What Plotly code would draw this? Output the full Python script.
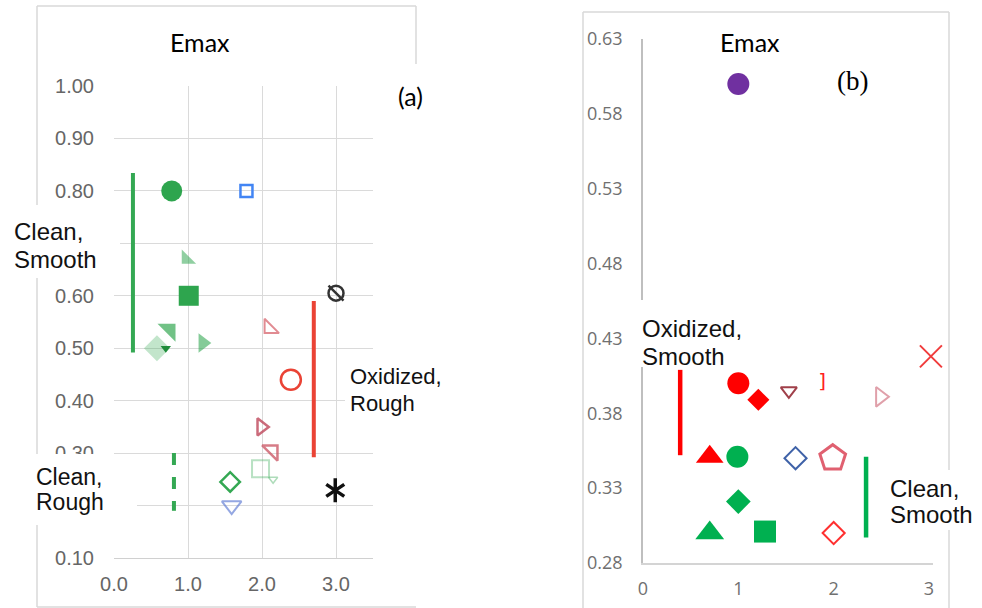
import plotly.graph_objects as go

W, H = 982, 608

# ---------------- Panel (a) data ----------------
a_x = [0.78, 1.79, 0.98, 1.01, 0.75, 0.58, 0.70, 1.20, 2.10, 2.39, 3.00, 3.00, 1.99, 2.14, 1.98, 2.15, 1.57, 1.59, 2.99, 2.99]
a_y = [0.80, 0.80, 0.67, 0.60, 0.535, 0.50, 0.50, 0.51, 0.538, 0.44, 0.605, 0.605, 0.35, 0.305, 0.27, 0.25, 0.245, 0.20, 0.229, 0.229]
a_sym = ["circle", "square-open", "triangle-sw", "square", "triangle-ne", "diamond", "triangle-down",
         "triangle-right", "triangle-sw-open", "circle-open", "circle-open", "line-nw", "triangle-right-open",
         "triangle-ne-open", "square-open", "triangle-down-open", "diamond-open", "triangle-down-open",
         "y-up-open", "y-down-open"]
a_col = ["#2EA54E", "#4285F4", "rgba(52,168,83,0.55)", "#2EA54E", "rgba(52,168,83,0.7)", "rgba(52,168,83,0.3)",
         "#1E8C3A", "rgba(52,168,83,0.6)", "rgba(215,100,110,0.75)", "#EA4335", "#333333", "#333333",
         "rgba(190,70,90,0.8)", "rgba(200,80,95,0.75)", "rgba(52,168,83,0.35)", "rgba(52,168,83,0.4)",
         "#34A853", "rgba(90,120,210,0.65)", "#111111", "#111111"]
a_size = [21, 12, 16, 20, 20, 20, 9, 17, 16, 20, 15, 15, 15, 17, 17, 8, 15, 17, 15, 15]
a_lw = [0, 2.5, 0, 0, 0, 0, 0, 0, 2, 2.5, 2.5, 2.5, 2.5, 2.5, 2, 1.5, 2.5, 2, 3.5, 3.5]

# group indicator lines (x, y_start, y_end)
a_lines_x = [0.256, 2.70, 0.81]
a_lines_y0 = [0.834, 0.59, 0.30]
a_lines_y1 = [0.492, 0.292, 0.19]
a_lines_col = ["#34A853", "#EA4335", "#34A853"]
a_lines_dash = ["solid", "solid", "dash"]

# ---------------- Panel (b) data ----------------
b_x = [1.00, 3.02, 1.00, 1.21, 1.53, 2.49, 0.70, 0.99, 1.60, 1.99, 1.00, 0.70, 1.28, 2.00]
b_y = [0.60, 0.418, 0.40, 0.389, 0.395, 0.391, 0.351, 0.351, 0.35, 0.35, 0.321, 0.30, 0.301, 0.30]
b_sym = ["circle", "x-thin-open", "circle", "diamond", "triangle-down-open", "triangle-right-open",
         "triangle-up", "circle", "diamond-open", "pentagon-open", "diamond", "triangle-up", "square", "diamond-open"]
b_col = ["#7030A0", "#F03C3C", "#FF0000", "#FF0000", "#A0404A", "#E0A0AA", "#FF0000", "#00B050",
         "#3F62A8", "#E06070", "#00B050", "#00B050", "#00B050", "#FF3030"]
b_size = [22, 22, 22, 17, 14, 17, 24, 22, 17, 27, 19, 25, 22, 17]
b_lw = [0, 2, 0, 0, 2, 2, 0, 0, 2, 3, 0, 0, 0, 2]

b_bracket_x = [1.88]
b_bracket_y = [0.40]

b_lines_x = [0.39, 2.34]
b_lines_y0 = [0.409, 0.351]
b_lines_y1 = [0.352, 0.297]
b_lines_col = ["#FF0000", "#00B050"]

a_xticks = [0, 1, 2, 3]
a_yticks = [0.1, 0.2, 0.3, 0.4, 0.5, 0.6, 0.7, 0.8, 0.9, 1.0]
a_yticktext = ["0.10", "", "0.30", "0.40", "0.50", "0.60", "", "0.80", "0.90", "1.00"]
b_xticks = [0, 1, 2, 3]
b_yticks = [0.28, 0.33, 0.38, 0.43, 0.48, 0.53, 0.58, 0.63]


def px(x):
    return x / W


def py(y):
    return 1 - y / H


fig = go.Figure()

for xv, y0, y1, c, d in zip(a_lines_x, a_lines_y0, a_lines_y1, a_lines_col, a_lines_dash):
    fig.add_trace(go.Scatter(x=[xv, xv], y=[y0, y1], mode="lines", xaxis="x", yaxis="y",
                             line=dict(color=c, width=4, dash=d), showlegend=False, hoverinfo="skip"))

for xv, yv, s, c, sz, lw in zip(a_x, a_y, a_sym, a_col, a_size, a_lw):
    open_ = s.endswith("open") or s.startswith("line")
    fig.add_trace(go.Scatter(x=[xv], y=[yv], mode="markers", xaxis="x", yaxis="y", cliponaxis=False,
                             marker=dict(symbol=s, size=sz, color=c,
                                         line=dict(color=c, width=lw if open_ else 0)),
                             showlegend=False))

for xv, y0, y1, c in zip(b_lines_x, b_lines_y0, b_lines_y1, b_lines_col):
    fig.add_trace(go.Scatter(x=[xv, xv], y=[y0, y1], mode="lines", xaxis="x2", yaxis="y2",
                             line=dict(color=c, width=4.5), showlegend=False, hoverinfo="skip"))

for xv, yv, s, c, sz, lw in zip(b_x, b_y, b_sym, b_col, b_size, b_lw):
    open_ = s.endswith("open")
    fig.add_trace(go.Scatter(x=[xv], y=[yv], mode="markers", xaxis="x2", yaxis="y2", cliponaxis=False,
                             marker=dict(symbol=s, size=sz, color=c,
                                         line=dict(color=c, width=lw if open_ else 0)),
                             showlegend=False))

fig.add_trace(go.Scatter(x=b_bracket_x, y=b_bracket_y, mode="text", text=["]"], xaxis="x2", yaxis="y2",
                         textfont=dict(family="DejaVu Sans", size=20, color="#FF2020"), showlegend=False))

tickfont_a = dict(family="Liberation Sans", size=20, color="#666666")
tickfont_b = dict(family="Open Sans", size=18, color="#707070")

b_xmax = 3.04
fig.update_layout(
    width=W, height=H, margin=dict(l=0, r=0, t=0, b=0, autoexpand=False),
    paper_bgcolor="white", plot_bgcolor="white",
    xaxis=dict(domain=[px(114), px(373)], range=[0, 3.5], tickvals=a_xticks, tickformat=".1f",
               showgrid=True, gridcolor="#dadada", gridwidth=1, zeroline=False, showline=True,
               linecolor="#d0d0d0", tickfont=tickfont_a, ticklabelstandoff=8, anchor="y", automargin=False),
    yaxis=dict(domain=[py(558), py(86)], range=[0.1, 1.0], tickvals=a_yticks, ticktext=a_yticktext,
               showgrid=True, gridcolor="#dadada", gridwidth=1, zeroline=False, showline=False,
               tickfont=tickfont_a, ticklabelstandoff=19, anchor="x", automargin=False),
    xaxis2=dict(domain=[px(643), px(643 + 95.33 * b_xmax)], range=[0, b_xmax], tickvals=b_xticks,
                showgrid=False, zeroline=False, showline=True, linecolor="#d4d4d4", linewidth=1.5,
                tickfont=tickfont_b, ticklabelstandoff=9, anchor="y2", automargin=False),
    yaxis2=dict(domain=[py(563), py(39)], range=[0.28, 0.63], tickvals=b_yticks, tickformat=".2f",
                showgrid=False, zeroline=False, showline=True, linecolor="#bfbfbf", linewidth=1.5,
                tickfont=tickfont_b, ticklabelstandoff=15, anchor="x2", automargin=False),
)

frame_col = "#d9d9d9"
shapes = [
    # panel (a) frame (partially hidden)
    dict(type="line", x0=px(37), x1=px(416), y0=py(6), y1=py(6)),
    dict(type="line", x0=px(37), x1=px(37), y0=py(6), y1=py(607)),
    dict(type="line", x0=px(37), x1=px(416), y0=py(607), y1=py(607)),
    dict(type="line", x0=px(416), x1=px(416), y0=py(6), y1=py(64)),
    # panel (b) frame
    dict(type="line", x0=px(583), x1=px(949), y0=py(12), y1=py(12)),
    dict(type="line", x0=px(583), x1=px(583), y0=py(12), y1=py(608)),
    dict(type="line", x0=px(949), x1=px(949), y0=py(12), y1=py(608)),
]
for s in shapes:
    s.update(xref="paper", yref="paper", line=dict(color=frame_col, width=1.5), layer="below")

boxes = [(0, 205, 120, 278), (30, 454, 137, 525), (345, 362, 415, 418), (628, 300, 757, 367), (885, 470, 982, 530)]
for x0, y0, x1, y1 in boxes:
    shapes.append(dict(type="rect", xref="paper", yref="paper", x0=px(x0), x1=px(x1), y0=py(y1), y1=py(y0),
                       fillcolor="white", line=dict(width=0), layer="above"))
fig.update_layout(shapes=shapes)

big = dict(family="Liberation Sans", size=24, color="#111111")
mid = dict(family="Liberation Sans", size=22, color="#111111")
ann = [
    dict(x=px(200), y=py(42), text="Emax", font=dict(family="Lato", size=25, color="#000"), xanchor="center"),
    dict(x=px(410), y=py(96), text="(a)", font=dict(family="Lato", size=25, color="#000"), xanchor="center"),
    dict(x=px(750), y=py(42), text="Emax", font=dict(family="Lato", size=25, color="#000"), xanchor="center"),
    dict(x=px(852), y=py(81), text="(b)", font=dict(family="Liberation Serif", size=27, color="#000"), xanchor="center"),
    dict(x=px(12), y=py(232), text="Clean,", font=big, xanchor="left"),
    dict(x=px(12), y=py(259), text="Smooth", font=big, xanchor="left"),
    dict(x=px(348), y=py(376), text="Oxidized,", font=mid, xanchor="left"),
    dict(x=px(348), y=py(403), text="Rough", font=mid, xanchor="left"),
    dict(x=px(34), y=py(477), text="Clean,", font=dict(family="Liberation Sans", size=23, color="#111111"), xanchor="left"),
    dict(x=px(34), y=py(502), text="Rough", font=dict(family="Liberation Sans", size=23, color="#111111"), xanchor="left"),
    dict(x=px(640), y=py(328), text="Oxidized,", font=big, xanchor="left"),
    dict(x=px(640), y=py(356), text="Smooth", font=big, xanchor="left"),
    dict(x=px(888), y=py(488), text="Clean,", font=big, xanchor="left"),
    dict(x=px(888), y=py(514), text="Smooth", font=big, xanchor="left"),
]
for a in ann:
    a.update(xref="paper", yref="paper", showarrow=False, yanchor="middle")
fig.update_layout(annotations=ann)

fig.write_html("out.html")
